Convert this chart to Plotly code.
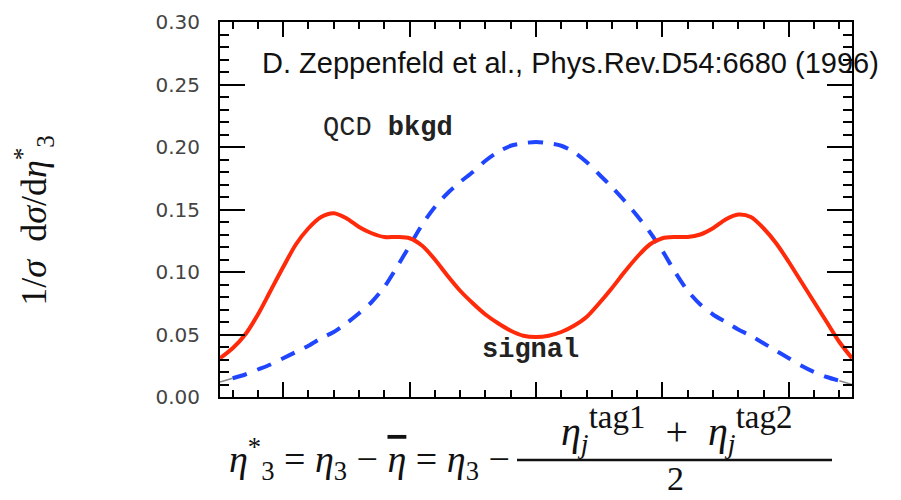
import plotly.graph_objects as go

# pseudorapidity of the third jet relative to the tagging-jet average
eta_star = [-2.5, -2.4, -2.3, -2.2, -2.1, -2.0, -1.9, -1.8, -1.7, -1.6,
            -1.5, -1.4, -1.3, -1.2, -1.1, -1.0, -0.9, -0.8, -0.7, -0.6,
            -0.5, -0.4, -0.3, -0.2, -0.1, 0.0, 0.1, 0.2, 0.3, 0.4,
            0.5, 0.6, 0.7, 0.8, 0.9, 1.0, 1.1, 1.2, 1.3, 1.4,
            1.5, 1.6, 1.7, 1.8, 1.9, 2.0, 2.1, 2.2, 2.3, 2.4, 2.5]

# normalised distributions 1/sigma dsigma/deta*_3
signal = [0.031, 0.039, 0.050, 0.066, 0.085, 0.104, 0.122, 0.135, 0.144, 0.147,
          0.143, 0.136, 0.131, 0.128, 0.128, 0.127, 0.121, 0.110, 0.097, 0.085,
          0.075, 0.066, 0.059, 0.053, 0.049, 0.048, 0.049, 0.052, 0.057, 0.064,
          0.075, 0.087, 0.100, 0.112, 0.122, 0.127, 0.128, 0.128, 0.130, 0.135,
          0.142, 0.146, 0.144, 0.135, 0.123, 0.108, 0.092, 0.076, 0.060, 0.044,
          0.031]

qcd_bkgd = [0.012, 0.015, 0.018, 0.022, 0.026, 0.031, 0.036, 0.041, 0.047, 0.052,
            0.059, 0.067, 0.076, 0.088, 0.104, 0.121, 0.138, 0.152, 0.163, 0.172,
            0.180, 0.189, 0.196, 0.201, 0.203, 0.204, 0.203, 0.201, 0.196, 0.188,
            0.178, 0.168, 0.157, 0.145, 0.132, 0.117, 0.100, 0.085, 0.074, 0.066,
            0.060, 0.054, 0.049, 0.043, 0.037, 0.031, 0.025, 0.020, 0.016, 0.013,
            0.010]

y_ticks = [0.00, 0.05, 0.10, 0.15, 0.20, 0.25, 0.30]
y_tick_labels = ["0.00", "0.05", "0.10", "0.15", "0.20", "0.25", "0.30"]

W, H = 901, 500
L, R, T, B = 220, 49, 10, 103


def px(x):
    return (x - L) / (W - L - R)


def py(y):
    return (H - B - y) / (H - T - B)


fig = go.Figure()

# thin grey stubs at both ends of the background curve
fig.add_trace(go.Scatter(x=eta_star[:2], y=qcd_bkgd[:2], mode="lines",
                         line=dict(color="#888888", width=1.5), hoverinfo="skip"))
fig.add_trace(go.Scatter(x=eta_star[-2:], y=qcd_bkgd[-2:], mode="lines",
                         line=dict(color="#888888", width=1.5), hoverinfo="skip"))

fig.add_trace(go.Scatter(x=eta_star[1:-1], y=qcd_bkgd[1:-1], mode="lines",
                         line=dict(color="#1f45ff", width=4, dash="15px,11px",
                                   shape="spline", smoothing=0.8),
                         name="QCD bkgd"))
fig.add_trace(go.Scatter(x=eta_star, y=signal, mode="lines",
                         line=dict(color="#ff2a0a", width=4,
                                   shape="spline", smoothing=0.8),
                         name="signal"))

serif = "Liberation Serif"
mono = "Liberation Mono"
ink = "#111111"
big_sup = "<sup><span style='font-size:33px'>{}</span></sup>"

annotations = [
    dict(x=px(570), y=py(52), xanchor="center", yanchor="middle",
         text="D. Zeppenfeld et al., Phys.Rev.D54:6680 (1996)",
         font=dict(family="Liberation Sans", size=29, color=ink)),
    dict(x=-1.17, y=0.215, xref="x", yref="y", text="QCD <b>bkgd</b>",
         font=dict(family=mono, size=27, color="#222222")),
    dict(x=-0.04, y=0.038, xref="x", yref="y", text="<b>signal</b>",
         font=dict(family=mono, size=27, color="#222222")),
    # y-axis title
    dict(x=px(34), y=py(215), xanchor="center", yanchor="middle", textangle=-90,
         text="1/<i>σ</i>  d<i>σ</i>/d<i>η</i><sup>*</sup><sub>3</sub>",
         font=dict(family=serif, size=36, color=ink)),
    # x-axis formula: left-hand part
    dict(x=px(512), y=py(461), xanchor="right", yanchor="middle",
         text="<i>η</i><sup>*</sup><sub>3</sub> = <i>η</i><sub>3</sub> − "
              "<span style='text-decoration:overline'><i>η</i></span> = "
              "<i>η</i><sub>3</sub> −",
         font=dict(family=serif, size=38, color=ink)),
    # fraction numerator and denominator
    dict(x=px(676), y=py(430), xanchor="center", yanchor="middle",
         text="<i>η</i><sub><i>j</i></sub>" + big_sup.format("tag1")
              + "\u2002+\u2002<i>η</i><sub><i>j</i></sub>" + big_sup.format("tag2"),
         font=dict(family=serif, size=40, color=ink)),
    dict(x=px(675), y=py(481), xanchor="center", yanchor="middle", text="2",
         font=dict(family=serif, size=34, color=ink)),
]
for a in annotations:
    a.setdefault("xref", "paper")
    a.setdefault("yref", "paper")
    a["showarrow"] = False

fig.update_layout(
    width=W, height=H,
    margin=dict(l=L, r=R, t=T, b=B),
    paper_bgcolor="white", plot_bgcolor="white",
    showlegend=False,
    annotations=annotations,
    shapes=[dict(type="line", xref="paper", yref="paper",
                 x0=px(517), x1=px(832), y0=py(462), y1=py(462),
                 line=dict(color=ink, width=2.5))],
)

fig.update_xaxes(range=[-2.5, 2.5], showgrid=False, zeroline=False,
                 showline=True, linecolor="black", linewidth=2, mirror="ticks",
                 ticks="inside", tick0=0, dtick=1, ticklen=15, tickwidth=2,
                 tickcolor="black", showticklabels=False,
                 minor=dict(ticks="inside", dtick=0.2, tick0=0, ticklen=7,
                            tickwidth=1.5, tickcolor="black", showgrid=False))
fig.update_yaxes(range=[0, 0.3], showgrid=False, zeroline=False,
                 showline=True, linecolor="black", linewidth=2, mirror="ticks",
                 ticks="inside", tickmode="array", tickvals=y_ticks,
                 ticktext=y_tick_labels, ticklen=25, tickwidth=2,
                 tickcolor="black", ticklabelstandoff=14,
                 tickfont=dict(family="DejaVu Sans", size=20, color="#444444"),
                 minor=dict(ticks="inside", dtick=0.01, tick0=0, ticklen=9,
                            tickwidth=1.5, tickcolor="black", showgrid=False))

fig.write_html("out.html")
